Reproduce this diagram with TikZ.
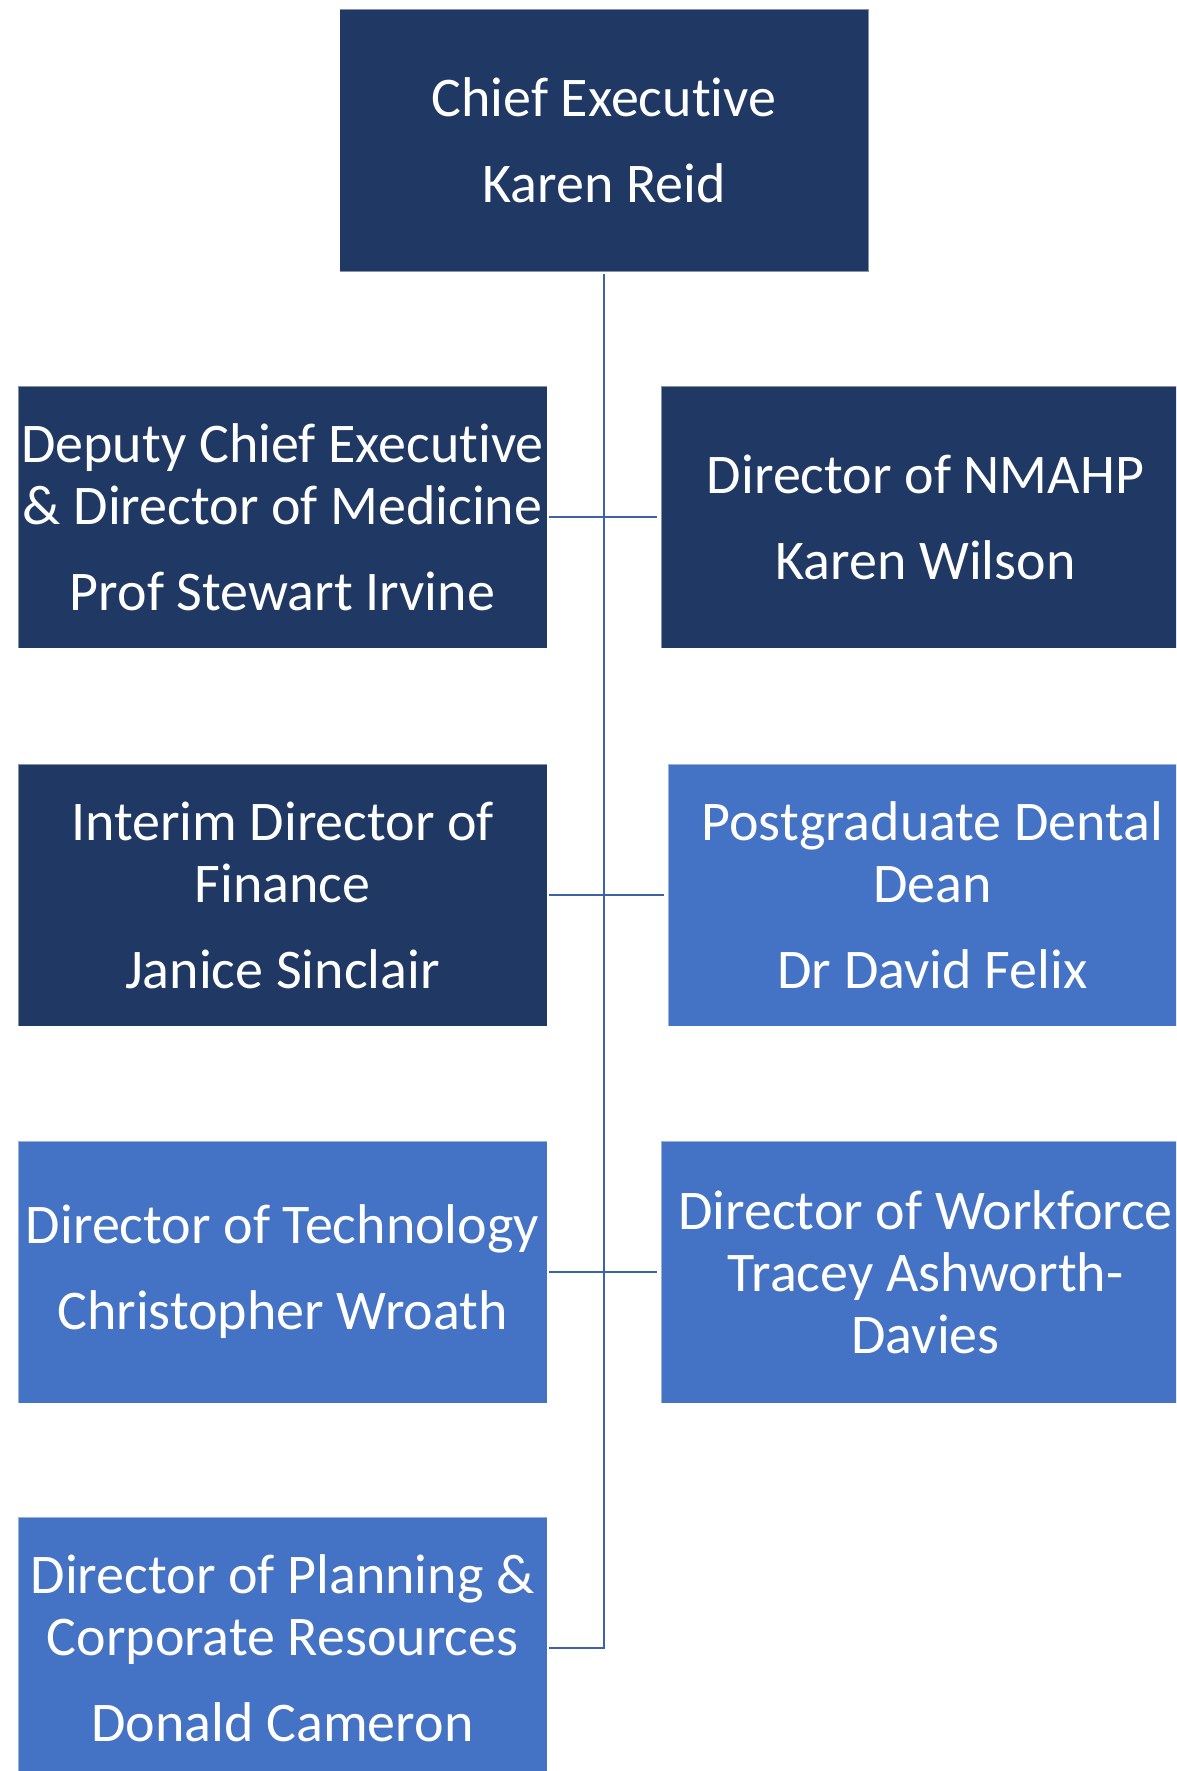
\documentclass[tikz,border=0pt]{standalone}
\usepackage{fontspec}
\setmainfont{Carlito}[Ligatures=NoCommon]
\definecolor{navy}{HTML}{203864}
\definecolor{accent}{HTML}{4472C4}
\definecolor{linkc}{HTML}{3C62A8}
\begin{document}
\begin{tikzpicture}[x=1pt,y=-1pt,
  box/.style={minimum width=529pt, minimum height=262pt, inner sep=0pt,
    text=white, align=center, font=\fontsize{56}{62}\selectfont,
    draw=white, draw opacity=0.45, line width=0.8pt},
  darkbox/.style={box, fill=navy},
  lightbox/.style={box, fill=accent},
  link/.style={draw=linkc, line width=2.4pt}]
\useasboundingbox (0,0) rectangle (1176,1771);
\clip (0,0) rectangle (1176,1771);
\fill[white] (0,0) rectangle (1176,1771);
\node[darkbox] (chief) at (604,140.5) {Chief Executive\\[24pt]Karen Reid};
\node[darkbox] (deputy) at (282.5,517) {Deputy Chief Executive\\\& Director of Medicine\\[24pt]Prof Stewart Irvine};
\node[darkbox] (nmahp) at (925.5,517) {Director of NMAHP\\[24pt]Karen Wilson};
\node[darkbox] (finance) at (282.5,895) {Interim Director of\\Finance\\[24pt]Janice Sinclair};
\node[lightbox] (dental) at (932.5,895) {Postgraduate Dental\\Dean\\[24pt]Dr David Felix};
\node[lightbox] (tech) at (282.5,1272) {Director of Technology\\[24pt]Christopher Wroath};
\node[lightbox] (work) at (925.5,1272) {Director of Workforce\\Tracey Ashworth-\\Davies};
\node[lightbox] (plan) at (282.5,1648) {Director of Planning \&\\Corporate Resources\\[24pt]Donald Cameron};
\draw[link, shorten <=2pt] (chief.south) -- (chief.south |- plan.east) -- ([xshift=2pt]plan.east);
\draw[link, shorten <=2pt, shorten >=4pt] (deputy.east) -- (nmahp.west);
\draw[link, shorten <=2pt, shorten >=4pt] (finance.east) -- (dental.west);
\draw[link, shorten <=2pt, shorten >=4pt] (tech.east) -- (work.west);
\end{tikzpicture}
\end{document}
